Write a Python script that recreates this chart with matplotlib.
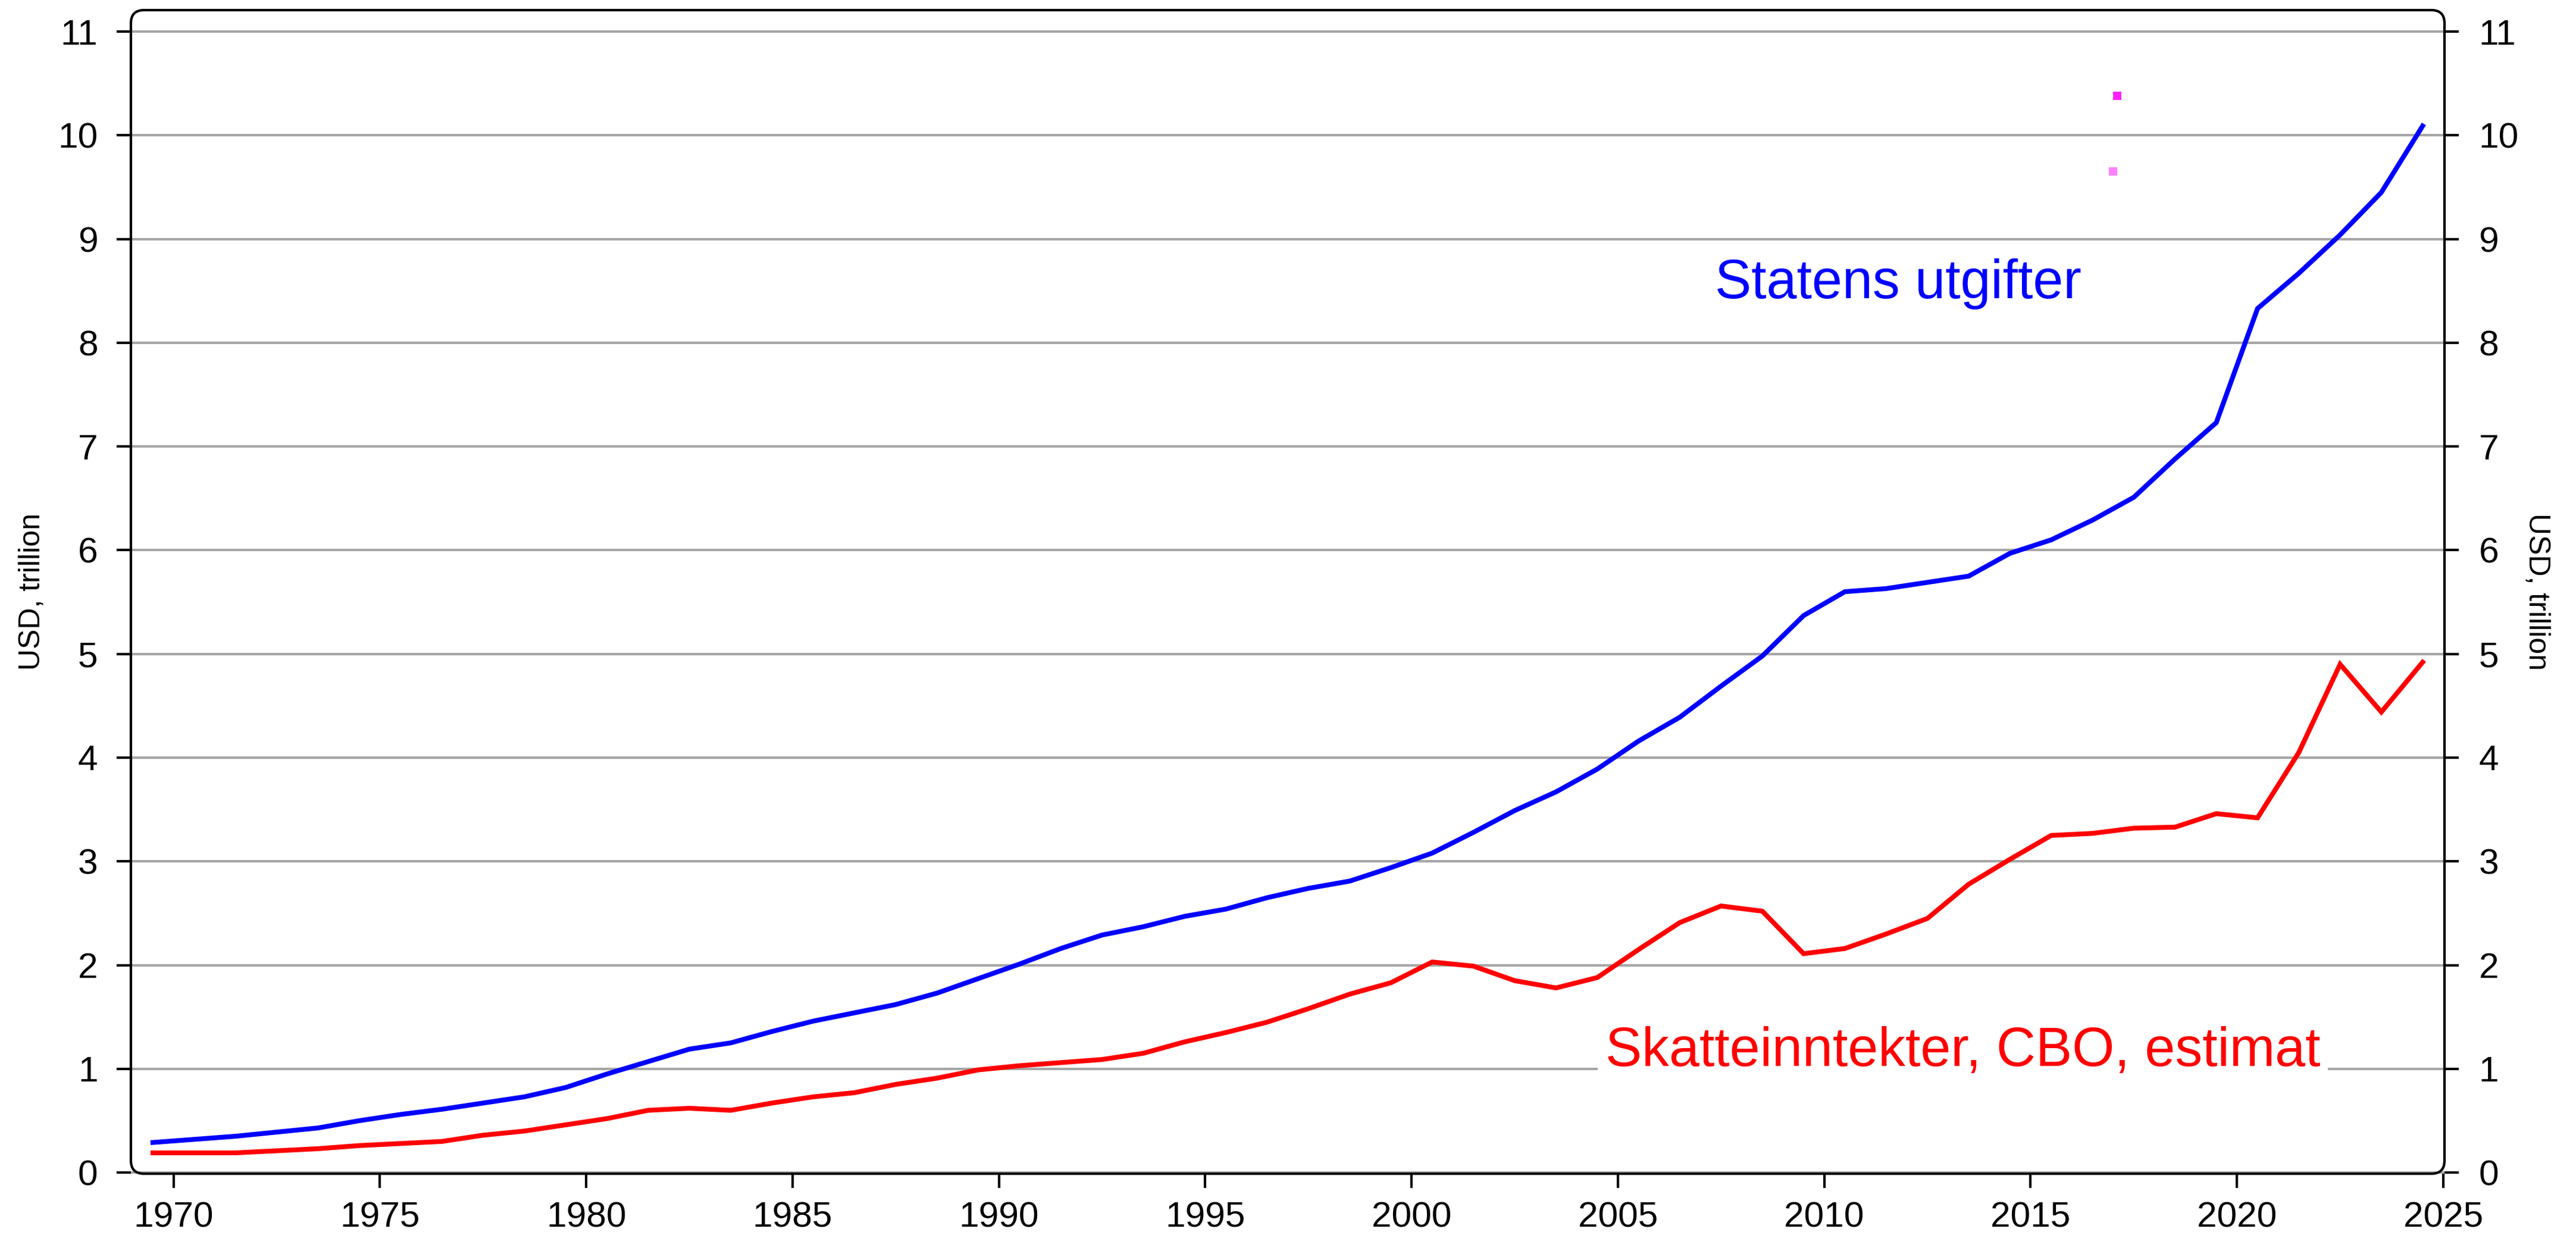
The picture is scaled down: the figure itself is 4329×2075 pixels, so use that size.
import numpy as np
import matplotlib
matplotlib.use("Agg")
import matplotlib.pyplot as plt
from matplotlib.patches import FancyBboxPatch

plt.rcParams['font.family'] = ['Liberation Sans', 'DejaVu Sans']

# fiscal years, plotted at mid-year
years = np.arange(1969, 2025)

# USD trillion
spending = [0.29, 0.32, 0.35, 0.39, 0.43, 0.50, 0.56, 0.61, 0.67, 0.73,
            0.82, 0.95, 1.07, 1.19, 1.25, 1.36, 1.46, 1.54, 1.62, 1.73,
            1.87, 2.01, 2.16, 2.29, 2.37, 2.47, 2.54, 2.65, 2.74, 2.81,
            2.94, 3.08, 3.28, 3.49, 3.67, 3.89, 4.16, 4.39, 4.69, 4.98,
            5.37, 5.60, 5.63, 5.69, 5.75, 5.97, 6.10, 6.29, 6.51, 6.88,
            7.23, 8.33, 8.67, 9.04, 9.45, 10.09]

revenue = [0.19, 0.19, 0.19, 0.21, 0.23, 0.26, 0.28, 0.30, 0.36, 0.40,
           0.46, 0.52, 0.60, 0.62, 0.60, 0.67, 0.73, 0.77, 0.85, 0.91,
           0.99, 1.03, 1.06, 1.09, 1.15, 1.26, 1.35, 1.45, 1.58, 1.72,
           1.83, 2.03, 1.99, 1.85, 1.78, 1.88, 2.15, 2.41, 2.57, 2.52,
           2.11, 2.16, 2.30, 2.45, 2.78, 3.02, 3.25, 3.27, 3.32, 3.33,
           3.46, 3.42, 4.05, 4.90, 4.44, 4.92]

# two stray magenta dots in the original
dot_x = [2017.1, 2017.0]
dot_y = [10.38, 9.65]
dot_colors = ['#ff22ff', '#ff80ff']

x_ticks = np.arange(1970, 2026, 5)
y_ticks = np.arange(0, 12)

W, H = 4329 / 300, 2075 / 300
fig = plt.figure(figsize=(W, H), dpi=300)
ax = fig.add_axes([0.05082, 0.04964, 0.89813, 0.94217])

ax.set_xlim(1968.966, 2025.03)
ax.set_ylim(-0.011, 11.207)

ax.grid(axis='y', color='#a6a6a6', lw=1.0, zorder=0)
ax.set_axisbelow(True)

x = years + 0.5
ax.plot(x, spending, color='#0000ff', lw=1.95, zorder=3, solid_joinstyle='miter')
ax.plot(x, revenue, color='#ff0000', lw=1.95, zorder=3, solid_joinstyle='miter')

for dx, dy, c in zip(dot_x, dot_y, dot_colors):
    ax.plot(dx, dy, marker='s', ms=3.3, mew=0, color=c, ls='none', zorder=3)

ax.text(2007.35, 8.43, 'Statens utgifter', color='#0000ff', fontsize=22,
        va='baseline', ha='left', zorder=4)
ax.text(2004.7, 1.025, 'Skatteinntekter, CBO, estimat', color='#ff0000',
        fontsize=22, va='baseline', ha='left', zorder=4,
        bbox=dict(facecolor='white', edgecolor='none', pad=3))

ax.set_xticks(x_ticks)
ax.set_yticks(y_ticks)
ax.tick_params(axis='both', labelsize=14.5, width=1.0, length=5.8, color='black')
ax.tick_params(axis='y', pad=7.5)
ax.tick_params(axis='x', pad=5.3)
ax.set_ylabel('USD, trillion', fontsize=12, labelpad=5)

ax2 = ax.twinx()
ax2.set_ylim(ax.get_ylim())
ax2.set_yticks(y_ticks)
ax2.tick_params(axis='y', labelsize=14.5, width=1.0, length=5.8, pad=8)
ax2.set_ylabel('USD, trillion', fontsize=12, rotation=270, labelpad=13)

for a in (ax, ax2):
    for s in a.spines.values():
        s.set_visible(False)

# rounded frame in place of the spines
pos = ax.get_position()
r = 22 / 300
frame = FancyBboxPatch((pos.x0 * W, pos.y0 * H), pos.width * W, pos.height * H,
                       boxstyle=f"round,pad=0,rounding_size={r}",
                       transform=fig.dpi_scale_trans, fill=False,
                       ec='black', lw=1.0, zorder=5, clip_on=False)
fig.add_artist(frame)

fig.savefig('out.png', dpi=300, facecolor='white')
